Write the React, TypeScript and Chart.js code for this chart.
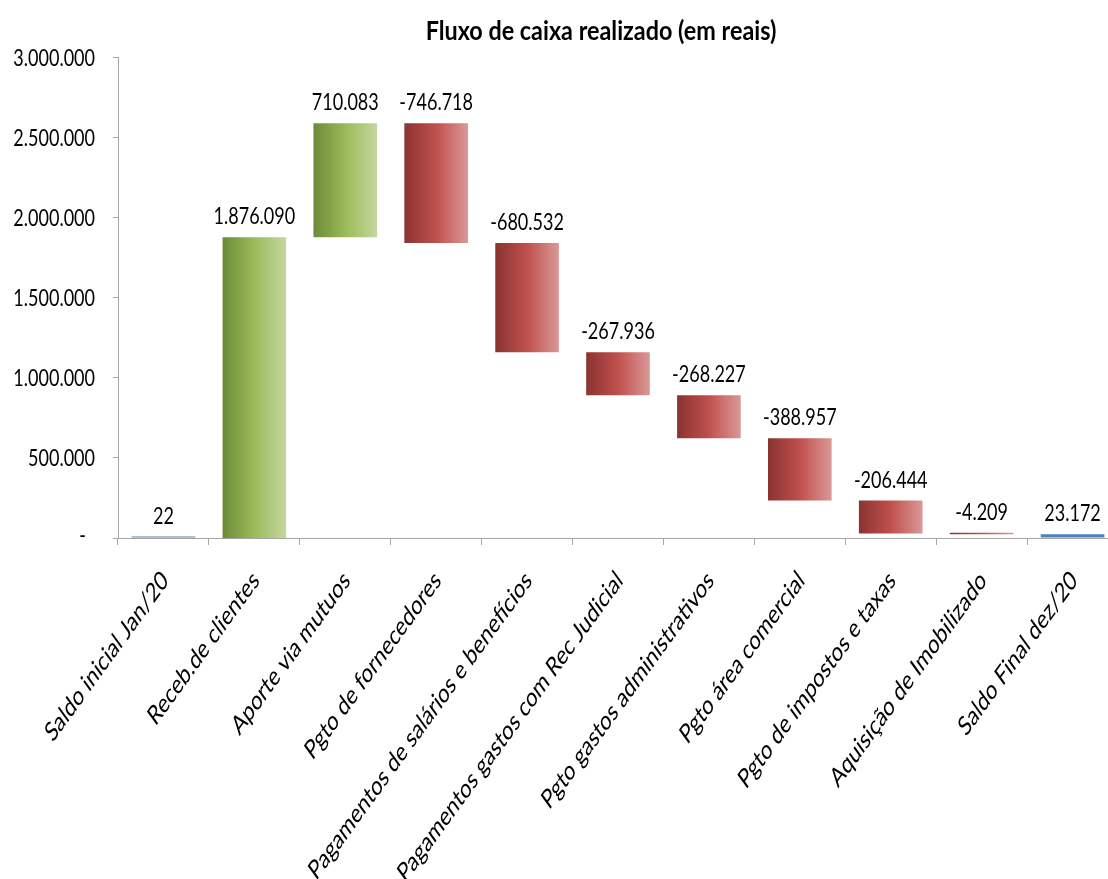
import React, { useEffect, useRef } from "react";
import { Chart, registerables } from "chart.js";

Chart.register(...registerables);

// ---------- data ----------
const categories = [
  "Saldo inicial Jan/20",
  "Receb.de clientes",
  "Aporte via mutuos",
  "Pgto de fornecedores",
  "Pagamentos de salários e benefícios",
  "Pagamentos gastos com Rec Judicial",
  "Pgto gastos administrativos",
  "Pgto área comercial",
  "Pgto de impostos e taxas",
  "Aquisição de Imobilizado",
  "Saldo Final dez/20",
];
const changes = [22, 1876090, 710083, -746718, -680532, -267936, -268227, -388957, -206444, -4209, 23172];
const kinds = ["total", "up", "up", "down", "down", "down", "down", "down", "down", "down", "total"];
const yTickValues = [0, 500000, 1000000, 1500000, 2000000, 2500000, 3000000];
const yMin = 0;
const yMax = 3000000;
const titleText = "Fluxo de caixa realizado (em reais)";

// ---------- style ----------
const FONT = "Lato, 'Open Sans', sans-serif";
const FONT_SIZE = 17;
const FONT_SX = 1.06;
const LABEL_SIZE = 19.5;
const TITLE_SIZE = 19;
const TITLE_SX = 1.23;
const SY = 1.38; // vertical stretch of the reference picture
const AXIS = "#a6a6a6";
const BAR_PCT = 0.7;

function fmt(n: number): string {
  const s = Math.abs(Math.round(n)).toString().replace(/\B(?=(\d{3})+(?!\d))/g, ".");
  return (n < 0 ? "-" : "") + s;
}

function buildRanges(): [number, number][] {
  const out: [number, number][] = [];
  let run = 0;
  changes.forEach((v, i) => {
    if (kinds[i] === "total") {
      out.push([0, v]);
      run = v;
    } else {
      out.push([run, run + v]);
      run += v;
    }
  });
  return out;
}

function barFill(ctx: any) {
  const chart = ctx.chart;
  const i = ctx.dataIndex;
  const kind = kinds[i];
  if (kind === "total") return "#4f81bd";
  const xs = chart.scales && chart.scales.x;
  if (!chart.chartArea || !xs || i === undefined) return kind === "up" ? "#9bbb59" : "#c0504d";
  const cx = xs.getPixelForValue(i);
  const w = (xs.width / categories.length) * BAR_PCT;
  const g = chart.ctx.createLinearGradient(cx - w / 2, 0, cx + w / 2, 0);
  if (kind === "up") {
    g.addColorStop(0, "#6c8a37");
    g.addColorStop(0.5, "#9bbb59");
    g.addColorStop(1, "#c4d79f");
  } else {
    g.addColorStop(0, "#8a3331");
    g.addColorStop(0.5, "#c0504d");
    g.addColorStop(1, "#da9997");
  }
  return g;
}

function drawText(
  ctx: CanvasRenderingContext2D,
  text: string,
  x: number,
  y: number,
  o: { size: number; bold?: boolean; sx?: number; align: CanvasTextAlign; rot?: number }
) {
  ctx.save();
  ctx.translate(x, y);
  ctx.scale(o.sx || 1, SY);
  if (o.rot) ctx.rotate(o.rot);
  ctx.font = `${o.bold ? "bold " : ""}${o.size}px ${FONT}`;
  ctx.textAlign = o.align;
  ctx.textBaseline = "alphabetic";
  ctx.fillStyle = "#000";
  ctx.fillText(text, 0, 0);
  ctx.restore();
}

const textPlugin = {
  id: "wfText",
  afterDraw(chart: any) {
    const ctx = chart.ctx as CanvasRenderingContext2D;
    const a = chart.chartArea;
    const xs = chart.scales.x;
    const ys = chart.scales.y;

    // title
    drawText(ctx, titleText, a.left + (a.right - a.left) * 0.483, 39.5, {
      size: TITLE_SIZE,
      sx: TITLE_SX,
      bold: true,
      align: "center",
    });

    // y tick labels
    ys.ticks.forEach((t: any) => {
      const py = ys.getPixelForValue(t.value);
      if (t.value === 0) {
        drawText(ctx, "-", a.left - 32, py + 5, { size: FONT_SIZE, sx: FONT_SX, align: "right" });
      } else {
        drawText(ctx, fmt(t.value), a.left - 23, py + 8.5, { size: FONT_SIZE, sx: FONT_SX, align: "right" });
      }
    });

    // x category labels (rotated 45° in the unstretched frame)
    categories.forEach((lab, i) => {
      const px = xs.getPixelForValue(i);
      drawText(ctx, lab, px + 6, a.bottom + 44, {
        size: LABEL_SIZE,
        align: "right",
        rot: -Math.PI / 4,
      });
    });

    // value labels above each bar
    const meta = chart.getDatasetMeta(0);
    meta.data.forEach((el: any, i: number) => {
      const top = Math.min(el.y, el.base);
      drawText(ctx, fmt(changes[i]), el.x, top - 13, { size: FONT_SIZE, sx: FONT_SX, align: "center" });
    });
  },
};

export default function App() {
  const ref = useRef<HTMLCanvasElement | null>(null);

  useEffect(() => {
    if (!ref.current) return;
    const chart = new Chart(ref.current, {
      type: "bar",
      data: {
        labels: categories,
        datasets: [
          {
            data: buildRanges() as any,
            backgroundColor: barFill as any,
            borderWidth: 0,
            barPercentage: BAR_PCT,
            categoryPercentage: 1,
            minBarLength: 1.5,
          },
        ],
      },
      options: {
        animation: false,
        responsive: true,
        maintainAspectRatio: false,
        layout: { padding: { top: 57, right: 12, left: 0, bottom: 0 } },
        plugins: {
          legend: { display: false },
          title: { display: false },
          tooltip: { enabled: false },
        },
        scales: {
          x: {
            grid: {
              display: true,
              drawOnChartArea: false,
              drawTicks: true,
              tickLength: 7,
              color: AXIS,
              offset: true,
            },
            border: { display: true, color: AXIS, width: 1 },
            ticks: { display: false, autoSkip: false },
            afterFit: (s: any) => {
              s.height = 341;
              s.paddingLeft = 0;
              s.paddingRight = 0;
            },
          },
          y: {
            min: yMin,
            max: yMax,
            afterBuildTicks: (s: any) => {
              s.ticks = yTickValues.map((v) => ({ value: v }));
            },
            ticks: { display: false },
            grid: {
              display: true,
              drawOnChartArea: false,
              drawTicks: true,
              tickLength: 5,
              color: AXIS,
            },
            border: { display: true, color: AXIS, width: 1 },
            afterFit: (s: any) => {
              s.width = 118;
              s.paddingTop = 0;
              s.paddingBottom = 0;
            },
          },
        },
      },
      plugins: [textPlugin],
    });
    return () => chart.destroy();
  }, []);

  return (
    <div
      style={{
        position: "fixed",
        left: 0,
        top: 0,
        width: 1108,
        height: 879,
        overflow: "hidden",
        background: "#fff",
      }}
    >
      <div style={{ position: "relative", width: 1130, height: 879 }}>
        <canvas ref={ref} />
      </div>
    </div>
  );
}
